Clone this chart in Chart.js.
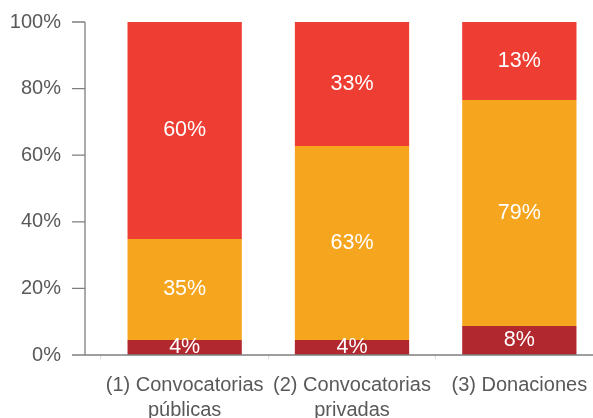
<!DOCTYPE html>
<html>
<head>
<meta charset="utf-8">
<script src="https://cdn.jsdelivr.net/npm/chart.js@4.4.1/dist/chart.umd.min.js"></script>
<style>
  html, body { margin: 0; padding: 0; background: #fff; overflow: hidden; }
  .wrap { width: 603px; height: 418px; position: relative; }
</style>
</head>
<body>
<div class="wrap"><canvas id="chart"></canvas></div>
<script>
// Categories (two-line labels)
const categories = [
  ['(1) Convocatorias', 'públicas'],
  ['(2) Convocatorias', 'privadas'],
  ['(3) Donaciones']
];
// Segment heights as drawn (percent of bar)
const bottomValues = [4.5, 4.5, 8.7];
const middleValues = [30.3, 58.3, 67.9];
const topValues = [65.2, 37.2, 23.4];
// Texts printed on the segments
const bottomLabels = ['4%', '4%', '8%'];
const middleLabels = ['35%', '63%', '79%'];
const topLabels = ['60%', '33%', '13%'];
// Y ticks
const yTicks = [0, 20, 40, 60, 80, 100];

const fontFamily = "'Liberation Sans', Arial, sans-serif";
const chartEl = document.getElementById('chart');

// Draw white value texts in the middle of each segment
const segmentLabels = {
  id: 'segmentLabels',
  afterDatasetsDraw(chart) {
    const ctx = chart.ctx;
    ctx.save();
    ctx.fillStyle = '#fff';
    ctx.font = '21.5px ' + fontFamily;
    ctx.textAlign = 'center';
    ctx.textBaseline = 'middle';
    chart.data.datasets.forEach((ds, i) => {
      const meta = chart.getDatasetMeta(i);
      meta.data.forEach((bar, j) => {
        ctx.fillText(ds.texts[j], bar.x, (bar.y + bar.base) / 2);
      });
    });
    ctx.restore();
  }
};

// Axis lines sit a bit left of the plot area, like the original
const axisLines = {
  id: 'axisLines',
  afterDraw(chart) {
    const ctx = chart.ctx;
    const y = chart.scales.y;
    const area = chart.chartArea;
    const ax = area.left - 16;
    ctx.save();
    ctx.strokeStyle = '#7f7f7f';
    ctx.lineWidth = 1.3;
    ctx.beginPath();
    ctx.moveTo(ax, y.getPixelForValue(100));
    ctx.lineTo(ax, y.getPixelForValue(0));
    yTicks.forEach(v => {
      const py = y.getPixelForValue(v);
      ctx.moveTo(ax - 13, py);
      ctx.lineTo(ax, py);
    });
    ctx.moveTo(ax - 11, y.getPixelForValue(0));
    ctx.lineTo(chart.width, y.getPixelForValue(0));
    ctx.stroke();
    ctx.restore();
  }
};

new Chart(chartEl, {
  type: 'bar',
  data: {
    labels: categories,
    datasets: [
      { data: bottomValues, texts: bottomLabels, backgroundColor: '#B1282F' },
      { data: middleValues, texts: middleLabels, backgroundColor: '#F6A51F' },
      { data: topValues, texts: topLabels, backgroundColor: '#EE3E34' }
    ]
  },
  options: {
    responsive: true,
    maintainAspectRatio: false,
    animation: false,
    layout: { padding: { top: 22, left: 0, right: 0, bottom: 0 } },
    datasets: {
      bar: { categoryPercentage: 1, barPercentage: 0.683, borderWidth: 0 }
    },
    plugins: {
      legend: { display: false },
      tooltip: { enabled: false }
    },
    scales: {
      x: {
        stacked: true,
        border: { display: false },
        grid: { drawOnChartArea: false, drawTicks: true, tickLength: 4, color: '#d9d9d9' },
        ticks: {
          color: '#595959',
          padding: 14,
          maxRotation: 0,
          autoSkip: false,
          font: { family: fontFamily, size: 20, lineHeight: 1.25 }
        },
        afterFit(scale) { scale.height = 63; }
      },
      y: {
        stacked: true,
        min: 0,
        max: 100,
        border: { display: false },
        grid: { display: false, drawTicks: true, tickLength: 36 },
        afterBuildTicks(scale) { scale.ticks = yTicks.map(v => ({ value: v })); },
        ticks: {
          color: '#595959',
          padding: 4,
          font: { family: fontFamily, size: 20 },
          callback: v => v + '%'
        },
        afterFit(scale) { scale.width = 101; }
      }
    }
  },
  plugins: [segmentLabels, axisLines]
});
</script>
</body>
</html>
